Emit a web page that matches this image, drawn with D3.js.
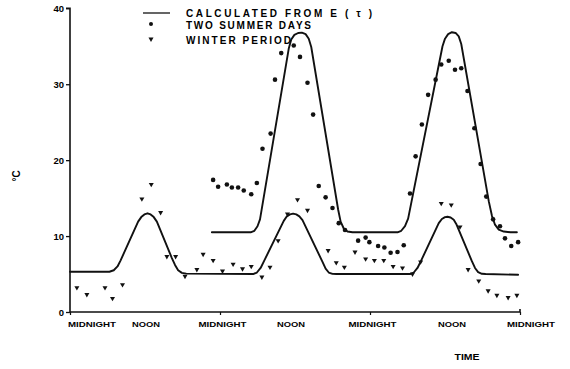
<!DOCTYPE html>
<html>
<head>
<meta charset="utf-8">
<script src="https://cdn.jsdelivr.net/npm/d3@7"></script>
<style>
  html, body { margin: 0; padding: 0; background: #fff; }
  svg text { font-family: "Liberation Sans", Arial, sans-serif; font-weight: bold; fill: #000; }
</style>
</head>
<body>
<svg id="chart" width="570" height="369"></svg>
<script>
// Time axis: hours from the first midnight (three days)
const tickHours = [0, 12, 24, 36, 48, 60, 72];
const tickLabels = ["MIDNIGHT", "NOON", "MIDNIGHT", "NOON", "MIDNIGHT", "NOON", "MIDNIGHT"];
const yTicks = [0, 10, 20, 30, 40];

// Calculated temperature curve for the winter period [hour, °C]
const winterCalc = [
  [0, 5.3], [6.3, 5.3], [7.0, 5.5], [7.6, 6.0], [8.1, 6.8], [10.9, 11.9],
  [11.4, 12.5], [11.9, 12.85], [12.4, 13.0], [12.9, 12.85], [13.4, 12.5], [13.9, 11.9],
  [16.3, 7.1], [16.8, 6.2], [17.3, 5.5], [17.9, 5.15], [18.6, 5.05],
  [29.3, 5.0], [29.9, 5.2], [30.5, 5.8], [31.1, 6.8], [34.2, 12.0],
  [34.7, 12.6], [35.2, 12.85], [35.7, 12.95], [36.2, 12.85], [36.7, 12.6], [37.2, 12.1],
  [40.4, 6.6], [40.9, 5.7], [41.4, 5.2], [42.0, 5.02], [42.6, 5.0],
  [54.4, 5.0], [55.0, 5.2], [55.6, 5.8], [56.2, 6.8], [59.0, 11.7],
  [59.5, 12.25], [60.0, 12.5], [60.4, 12.55], [60.9, 12.45], [61.4, 12.15], [61.8, 11.6],
  [64.3, 6.7], [64.8, 5.8], [65.3, 5.25], [65.9, 5.03], [66.5, 5.0], [71.7, 4.9]
];

// Calculated temperature curve for the two summer days [hour, °C]
const summerCalc = [
  [22.7, 10.5], [28.9, 10.5], [29.5, 10.7], [30.0, 11.3], [30.4, 12.2], [35.0, 34.7],
  [35.4, 35.9], [35.9, 36.5], [36.5, 36.75], [37.1, 36.8], [37.7, 36.6], [38.2, 36.0], [38.6, 34.9],
  [42.9, 13.5], [43.3, 11.9], [43.8, 11.0], [44.4, 10.6], [45.2, 10.5],
  [52.4, 10.5], [53.0, 10.7], [53.6, 11.3], [54.1, 12.3], [59.6, 35.0],
  [60.0, 36.0], [60.5, 36.6], [61.1, 36.85], [61.7, 36.75], [62.2, 36.3], [62.6, 35.3],
  [67.0, 14.6], [67.5, 12.7], [68.0, 11.5], [68.6, 10.85], [69.4, 10.6], [70.5, 10.5], [71.5, 10.5]
];

// Measured temperatures, two summer days [hour, °C]
const summerObs = [
  [22.9, 17.4], [23.7, 16.5], [25.1, 16.8], [25.9, 16.4], [26.9, 16.4], [27.8, 16.0],
  [29.0, 15.5], [29.9, 17.0], [30.8, 21.5], [32.1, 23.5], [32.8, 30.6], [33.8, 34.1],
  [35.8, 35.1], [36.8, 33.6], [38.0, 30.2], [38.9, 26.0], [39.8, 16.6], [40.9, 15.1],
  [42.0, 13.7], [43.0, 11.7], [44.0, 10.8], [46.1, 9.4], [47.3, 9.8], [47.9, 9.2],
  [49.3, 8.7], [50.3, 8.5], [51.3, 7.8], [52.4, 7.9], [53.4, 8.8], [54.4, 15.6],
  [55.3, 20.5], [56.3, 24.7], [57.3, 28.6], [58.5, 30.6], [59.4, 32.6], [60.6, 33.1],
  [61.6, 31.9], [62.6, 32.1], [63.6, 29.1], [64.7, 24.2], [65.7, 19.5], [66.6, 15.2],
  [67.7, 12.2], [68.8, 11.3], [69.6, 9.7], [70.6, 8.7], [71.7, 9.2]
];

// Measured temperatures, winter period [hour, °C]
const winterObs = [
  [1.1, 3.2], [2.7, 2.3], [5.6, 3.2], [6.8, 1.8], [8.4, 3.6], [11.5, 14.9], [13.0, 16.8],
  [14.5, 13.1], [15.5, 7.3], [16.9, 7.3], [18.4, 4.7], [20.3, 5.6], [21.3, 7.6],
  [22.9, 6.8], [24.4, 5.4], [26.1, 6.3], [27.6, 5.7], [29.0, 6.0], [30.7, 4.6],
  [32.0, 5.9], [33.3, 9.4], [34.8, 12.9], [36.4, 14.8], [38.0, 13.4], [41.3, 8.1],
  [42.6, 6.5], [43.9, 5.9], [45.6, 7.9], [47.3, 7.0], [48.7, 6.8], [50.2, 6.8],
  [51.7, 6.0], [53.2, 5.8], [54.8, 5.0], [56.1, 6.6], [59.4, 14.3], [61.0, 14.1],
  [62.4, 11.2], [63.7, 5.6], [65.4, 4.1], [66.9, 2.8], [68.3, 2.2], [70.1, 1.9], [71.5, 2.2]
];

const legendItems = [
  { kind: "line", text: "CALCULATED FROM E ( τ )" },
  { kind: "dot", text: "TWO SUMMER DAYS" },
  { kind: "tri", text: "WINTER PERIOD" }
];

const svg = d3.select("#chart");

const x = d3.scaleLinear().domain([0, 72]).range([70, 520]);
const y = d3.scaleLinear().domain([0, 40]).range([312, 8.3]);

const ink = "#111";

// Axes
const yAxis = d3.axisLeft(y).tickValues(yTicks).tickSize(4).tickFormat(d3.format("d"));
const gy = svg.append("g").attr("transform", `translate(${x(0)},0)`).call(yAxis);
gy.select(".domain").attr("stroke", ink).attr("stroke-width", 1.6).attr("d", `M-4,${y(40)}H0V${y(0)}`);
gy.selectAll(".tick line").attr("stroke", ink).attr("stroke-width", 1.3);
gy.selectAll(".tick text")
  .attr("x", -6).attr("dy", "0.35em")
  .style("font-size", "9.5px").style("font-family", "Liberation Sans, Arial, sans-serif")
  .style("font-weight", "bold").attr("fill", ink);

const xAxis = d3.axisBottom(x).tickValues(tickHours.filter((d, i) => i % 2 === 0)).tickSize(3).tickFormat("");
const gx = svg.append("g").attr("transform", `translate(0,${y(0)})`).call(xAxis);
gx.select(".domain").attr("stroke", ink).attr("stroke-width", 1.6).attr("d", `M${x(0)},0H${x(72)}V-3`);
gx.selectAll(".tick line").attr("stroke", ink).attr("stroke-width", 1.2);

// Time labels under the axis (small nudges follow the hand lettering)
const labelNudge = [22, 1, 2.5, -4, 2.5, 7, 11];
const labelWidth = { MIDNIGHT: 48, NOON: 28 };
svg.append("g").selectAll("text").data(tickLabels).join("text")
  .attr("x", (d, i) => x(tickHours[i]) + labelNudge[i])
  .attr("y", 327)
  .attr("text-anchor", "middle")
  .attr("textLength", d => labelWidth[d])
  .attr("lengthAdjust", "spacingAndGlyphs")
  .style("font-size", "8px")
  .text(d => d);

svg.append("text")
  .attr("transform", "translate(20,176) rotate(-90)")
  .attr("text-anchor", "middle")
  .style("font-size", "10px")
  .text("°C");

svg.append("text")
  .attr("x", 467).attr("y", 360)
  .attr("text-anchor", "middle")
  .attr("textLength", 25).attr("lengthAdjust", "spacingAndGlyphs")
  .style("font-size", "9px")
  .text("TIME");

// Calculated curves
const line = d3.line().x(d => x(d[0])).y(d => y(d[1])).curve(d3.curveLinear);
[winterCalc, summerCalc].forEach(series => {
  svg.append("path").datum(series)
    .attr("d", line)
    .attr("fill", "none")
    .attr("stroke", ink)
    .attr("stroke-width", 1.9)
    .attr("stroke-linejoin", "round")
    .attr("stroke-linecap", "round");
});

// Observations
const triangle = d3.symbol().type(d3.symbolTriangle).size(11);
svg.append("g").selectAll("circle").data(summerObs).join("circle")
  .attr("cx", d => x(d[0])).attr("cy", d => y(d[1])).attr("r", 2.3).attr("fill", ink);
svg.append("g").selectAll("path").data(winterObs).join("path")
  .attr("d", triangle)
  .attr("transform", d => `translate(${x(d[0])},${y(d[1])}) rotate(180)`)
  .attr("fill", ink);

// Legend
const legendWidths = [186, 125, 105];
const lg = svg.append("g");
legendItems.forEach((item, i) => {
  const cy = [13, 25, 40][i];
  if (item.kind === "line") {
    lg.append("line").attr("x1", 143).attr("x2", 170).attr("y1", cy).attr("y2", cy)
      .attr("stroke", ink).attr("stroke-width", 1.3);
  } else if (item.kind === "dot") {
    lg.append("circle").attr("cx", 151).attr("cy", cy - 1).attr("r", 2).attr("fill", ink);
  } else {
    lg.append("path").attr("d", triangle).attr("transform", `translate(151,${cy - 1}) rotate(180)`).attr("fill", ink);
  }
  lg.append("text")
    .attr("x", 186).attr("y", cy + 4)
    .attr("textLength", legendWidths[i]).attr("lengthAdjust", "spacing")
    .style("font-size", "10px")
    .text(item.text);
});
</script>
</body>
</html>
